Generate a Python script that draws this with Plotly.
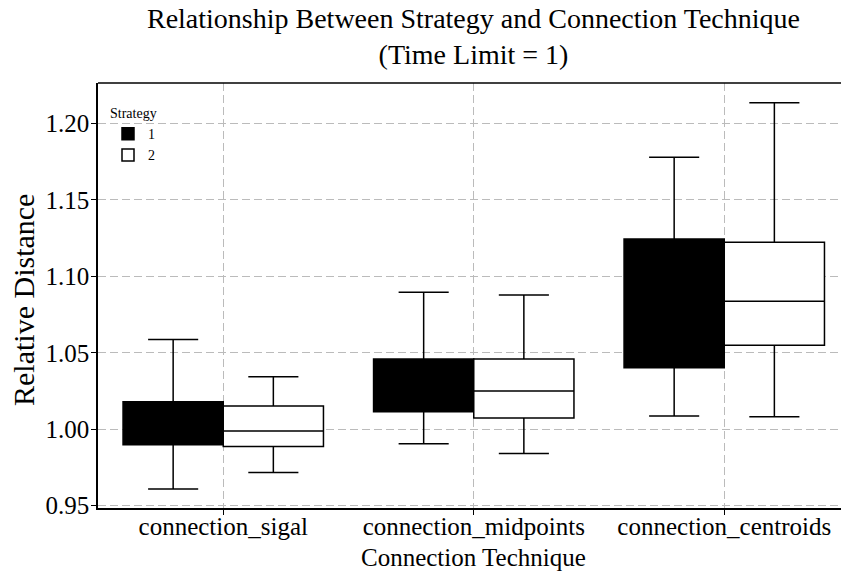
import plotly.graph_objects as go

categories = ["connection_sigal", "connection_midpoints", "connection_centroids"]

# Strategy 1 (black)
s1_lower = [0.961, 0.9906, 1.0087]
s1_q1 = [0.9898, 1.0115, 1.0402]
s1_median = [1.003, 1.030, 1.085]
s1_q3 = [1.018, 1.0459, 1.1244]
s1_upper = [1.0587, 1.0896, 1.178]

# Strategy 2 (white)
s2_lower = [0.9717, 0.9841, 1.0082]
s2_q1 = [0.9887, 1.0074, 1.055]
s2_median = [0.9989, 1.025, 1.0837]
s2_q3 = [1.0152, 1.0459, 1.1223]
s2_upper = [1.0343, 1.0879, 1.2136]

y_ticks = [0.95, 1.00, 1.05, 1.10, 1.15, 1.20]
y_ticktext = ["0.95", "1.00", "1.05", "1.10", "1.15", "1.20"]

FONT = "Liberation Serif"
W, H = 841, 577
L, T, B = 98, 83, 69
PW, PH = W - L, H - T - B

fig = go.Figure()
fig.add_trace(go.Box(
    name="1", x=categories, q1=s1_q1, median=s1_median, q3=s1_q3,
    lowerfence=s1_lower, upperfence=s1_upper,
    fillcolor="black", line=dict(color="black", width=1.5),
    whiskerwidth=0.5, boxpoints=False,
))
fig.add_trace(go.Box(
    name="2", x=categories, q1=s2_q1, median=s2_median, q3=s2_q3,
    lowerfence=s2_lower, upperfence=s2_upper,
    fillcolor="white", line=dict(color="black", width=1.5),
    whiskerwidth=0.5, boxpoints=False,
))

fig.update_layout(
    width=W, height=H,
    margin=dict(l=L, r=0, t=T, b=B, autoexpand=False),
    paper_bgcolor="white", plot_bgcolor="white",
    boxmode="group", boxgap=0.2, boxgroupgap=0,
    font=dict(family=FONT, color="black"),
    title=dict(
        text="Relationship Between Strategy and Connection Technique<br>(Time Limit = 1)",
        font=dict(family=FONT, size=28, color="black"),
        x=473.5 / W, xanchor="center", xref="container",
        y=1 - 28 / H, yanchor="top", yref="container",
        pad=dict(t=0, b=0, l=0, r=0), automargin=False,
    ),
    legend=dict(
        title=dict(text="Strategy", font=dict(size=14, family=FONT)),
        font=dict(size=14, family=FONT),
        x=(108 - L) / PW, y=(508 - 100) / PH, xanchor="left", yanchor="top",
        bgcolor="rgba(0,0,0,0)", borderwidth=0, tracegroupgap=0,
    ),
    xaxis=dict(
        type="category", range=[-0.5, 2.466], automargin=False,
        showgrid=True, gridcolor="#bbbbbb", gridwidth=1.2, griddash="8px,4px",
        showline=True, linecolor="black", linewidth=1.5,
        ticks="outside", ticklen=5, tickcolor="black", tickwidth=1.2,
        ticklabelstandoff=-10,
        tickfont=dict(family=FONT, size=25, color="black"),
        zeroline=False,
    ),
    yaxis=dict(
        range=[0.9485, 1.2265], automargin=False,
        tickvals=y_ticks, ticktext=y_ticktext,
        showgrid=True, gridcolor="#bbbbbb", gridwidth=1.2, griddash="8px,4px",
        showline=True, linecolor="black", linewidth=1.5,
        ticks="outside", ticklen=5, tickcolor="black", tickwidth=1.2,
        ticklabelstandoff=-3,
        tickfont=dict(family=FONT, size=25, color="black"),
        zeroline=False,
    ),
    annotations=[
        dict(
            text="Connection Technique", xref="paper", yref="paper",
            x=(473.5 - L) / PW, y=-(557 - 508) / PH, xanchor="center", yanchor="middle",
            showarrow=False, font=dict(family=FONT, size=25, color="black"),
        ),
        dict(
            text="Relative Distance", xref="paper", yref="paper", textangle=-90,
            x=-(L - 23) / PW, y=(508 - 300) / PH, xanchor="center", yanchor="middle",
            showarrow=False, font=dict(family=FONT, size=30, color="black"),
        ),
    ],
    shapes=[dict(
        type="line", xref="paper", yref="paper", x0=0, x1=1, y0=1, y1=1,
        line=dict(color="black", width=1.5),
    )],
)

fig.write_html("out.html", post_script="document.body.style.margin='0';",
               config={"displayModeBar": False})
